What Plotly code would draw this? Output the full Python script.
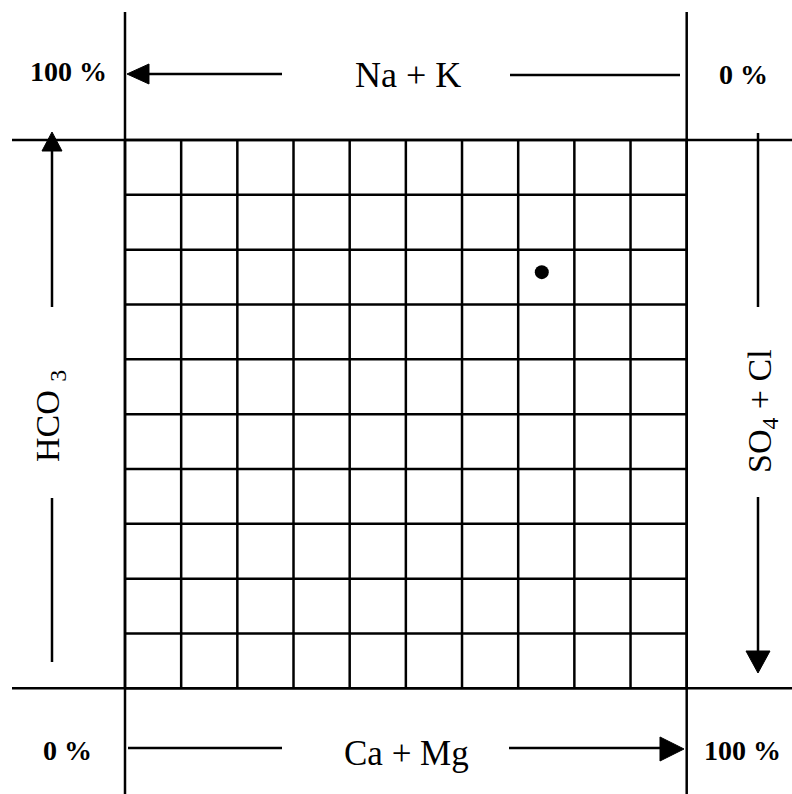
import plotly.graph_objects as go

# ---------------- data ----------------
grid_ticks = [0, 10, 20, 30, 40, 50, 60, 70, 80, 90, 100]
ca_mg_pct = [74.2]      # sample: Ca + Mg (% of cations)
hco3_pct = [75.9]       # sample: HCO3 (% of anions)

label_top = "Na + K"
label_bottom = "Ca + Mg"
label_left = "HCO <sub>3</sub>"
label_right = "SO<sub>4</sub> + Cl"
pct_top_left, pct_top_right = "100 %", "0 %"
pct_bot_left, pct_bot_right = "0 %", "100 %"

# ---------------- layout geometry (pixels) ----------------
W, H = 792, 794
SQ_L, SQ_R = 125.0, 686.7     # pixel x of 0 and 100 %
SQ_B, SQ_T = 688.3, 140.0     # pixel y of 0 and 100 %
sx = (SQ_R - SQ_L) / 100.0
sy = (SQ_B - SQ_T) / 100.0
x_range = [-SQ_L / sx, (W - SQ_L) / sx]
y_range = [-(H - SQ_B) / sy, 100 + SQ_T / sy]

def px(x):
    return x / W

def py(y):
    return 1 - y / H

LW = 2.5
BLACK = "black"
FONT = "Liberation Serif"

fig = go.Figure()
fig.add_trace(go.Scatter(x=ca_mg_pct, y=hco3_pct, mode="markers",
                         marker=dict(size=14, color=BLACK), showlegend=False,
                         hoverinfo="skip"))

shapes = []
# inner grid
for t in grid_ticks:
    shapes.append(dict(type="line", xref="x", yref="y", x0=t, x1=t, y0=0, y1=100,
                       line=dict(color=BLACK, width=LW)))
    shapes.append(dict(type="line", xref="x", yref="y", x0=0, x1=100, y0=t, y1=t,
                       line=dict(color=BLACK, width=LW)))
# extended frame lines
for t in (grid_ticks[0], grid_ticks[-1]):
    shapes.append(dict(type="line", xref="x", yref="paper", x0=t, x1=t,
                       y0=0, y1=py(12), line=dict(color=BLACK, width=LW)))
    shapes.append(dict(type="line", xref="paper", yref="y", x0=px(12), x1=1,
                       y0=t, y1=t, line=dict(color=BLACK, width=LW)))

def seg(x0, y0, x1, y1):
    shapes.append(dict(type="line", xref="paper", yref="paper",
                       x0=px(x0), y0=py(y0), x1=px(x1), y1=py(y1),
                       line=dict(color=BLACK, width=LW)))

def tri(pts):
    p = "M " + " L ".join(f"{px(a):.5f},{py(b):.5f}" for a, b in pts) + " Z"
    shapes.append(dict(type="path", xref="paper", yref="paper", path=p,
                       fillcolor=BLACK, line=dict(color=BLACK, width=1)))

# top arrow (pointing left)
seg(146, 74, 282, 74)
seg(510, 75, 680, 75)
tri([(127, 74), (149, 64), (149, 84)])
# bottom arrow (pointing right)
seg(128, 748, 282, 748)
seg(509, 748, 662, 748)
tri([(684, 749), (660, 737), (660, 761)])
# left arrow (pointing up)
seg(52, 148, 52, 307)
seg(52, 498, 52, 662)
tri([(52, 132), (42, 151), (62, 151)])
# right arrow (pointing down)
seg(758, 133, 758, 307)
seg(758, 497, 758, 655)
tri([(758, 673), (746, 651), (770, 651)])

ann = []
def text(x, y, s, size, bold=False, angle=0):
    ann.append(dict(xref="paper", yref="paper", x=px(x), y=py(y), text=(f"<b>{s}</b>" if bold else s),
                    showarrow=False, xanchor="center", yanchor="middle", textangle=angle,
                    font=dict(family=FONT, size=size, color=BLACK)))

text(408, 75, label_top, 36)
text(407, 753, label_bottom, 35)
text(68, 71, pct_top_left, 28, bold=True)
text(743, 74, pct_top_right, 28, bold=True)
text(67, 750, pct_bot_left, 28, bold=True)
text(742, 750, pct_bot_right, 28, bold=True)
text(50, 416, label_left, 34, angle=-90)
text(762, 411, label_right, 34, angle=-90)

fig.update_layout(
    width=W, height=H, autosize=False,
    margin=dict(l=0, r=0, t=0, b=0, pad=0),
    paper_bgcolor="white", plot_bgcolor="white",
    xaxis=dict(range=x_range, visible=False, fixedrange=True),
    yaxis=dict(range=y_range, visible=False, fixedrange=True),
    shapes=shapes, annotations=ann, showlegend=False,
)

fig.write_html("out.html", config={"displayModeBar": False},
               post_script="document.body.style.margin='0';document.body.style.overflow='hidden';")
